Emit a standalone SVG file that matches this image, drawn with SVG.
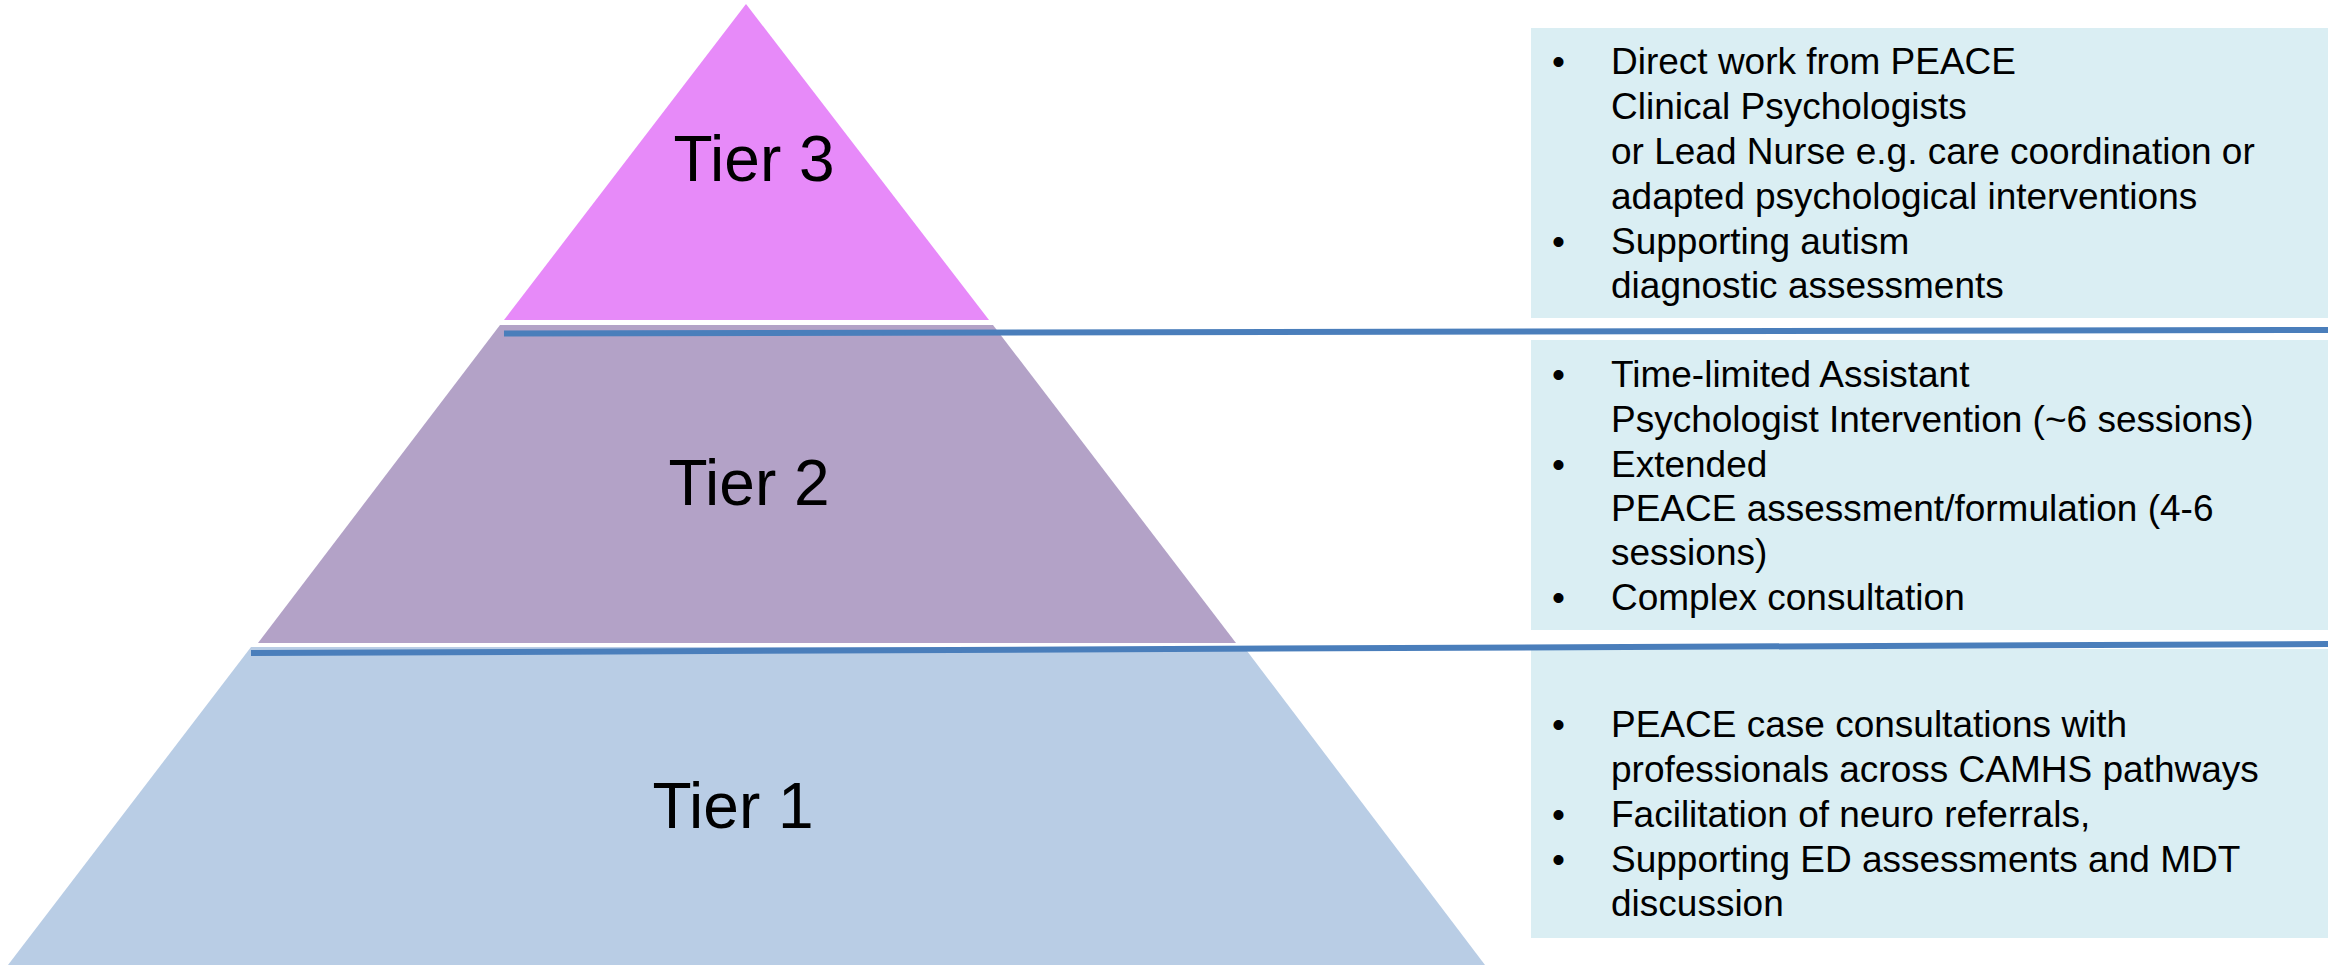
<svg xmlns="http://www.w3.org/2000/svg" width="2328" height="965" viewBox="0 0 2328 965">
<style>
.tier{font-family:"Liberation Sans",Arial,sans-serif;font-size:64px;fill:#000;text-anchor:middle}
.box{fill:#DAEEF3}
.txt{font-family:"Liberation Sans",Arial,sans-serif;font-size:37px;fill:#000}
.div{stroke:#4A7EBB;stroke-width:6;fill:none}
</style>
<rect width="2328" height="965" fill="#FFFFFF"/>
<g id="tier3">
<polygon points="746,4 989,320 504,320" fill="#E78AF9"/>
<text class="tier" x="754" y="181">Tier 3</text>
</g>
<g id="tier2">
<polygon points="500,325 993,325 1236,643 258,643" fill="#B3A2C7"/>
<text class="tier" x="749" y="505">Tier 2</text>
</g>
<g id="tier1">
<polygon points="251,647 1244,647 1485,965 8,965" fill="#B9CDE5"/>
<text class="tier" x="733" y="828">Tier 1</text>
</g>
<g id="box3">
<rect class="box" x="1531" y="28" width="797" height="290"/>
<text class="txt"><tspan x="1552" y="74">•</tspan><tspan x="1611" y="74">Direct work from PEACE</tspan><tspan x="1611" y="119">Clinical Psychologists</tspan><tspan x="1611" y="164">or Lead Nurse e.g. care coordination or</tspan><tspan x="1611" y="209">adapted psychological interventions</tspan><tspan x="1552" y="254">•</tspan><tspan x="1611" y="254">Supporting autism</tspan><tspan x="1611" y="298">diagnostic assessments</tspan></text>
</g>
<g id="box2">
<rect class="box" x="1531" y="340" width="797" height="290"/>
<text class="txt"><tspan x="1552" y="387">•</tspan><tspan x="1611" y="387">Time-limited Assistant</tspan><tspan x="1611" y="432">Psychologist Intervention (~6 sessions)</tspan><tspan x="1552" y="477">•</tspan><tspan x="1611" y="477">Extended</tspan><tspan x="1611" y="521">PEACE assessment/formulation (4-6</tspan><tspan x="1611" y="565">sessions)</tspan><tspan x="1552" y="610">•</tspan><tspan x="1611" y="610">Complex consultation</tspan></text>
</g>
<g id="box1">
<rect class="box" x="1531" y="649" width="797" height="289"/>
<text class="txt"><tspan x="1552" y="737">•</tspan><tspan x="1611" y="737">PEACE case consultations with</tspan><tspan x="1611" y="782">professionals across CAMHS pathways</tspan><tspan x="1552" y="827">•</tspan><tspan x="1611" y="827">Facilitation of neuro referrals,</tspan><tspan x="1552" y="872">•</tspan><tspan x="1611" y="872">Supporting ED assessments and MDT</tspan><tspan x="1611" y="916">discussion</tspan></text>
</g>
<g id="connectors">
<line class="div" x1="504" y1="333.5" x2="2328" y2="330"/>
<line class="div" x1="251" y1="653" x2="2328" y2="644"/>
</g>
</svg>
